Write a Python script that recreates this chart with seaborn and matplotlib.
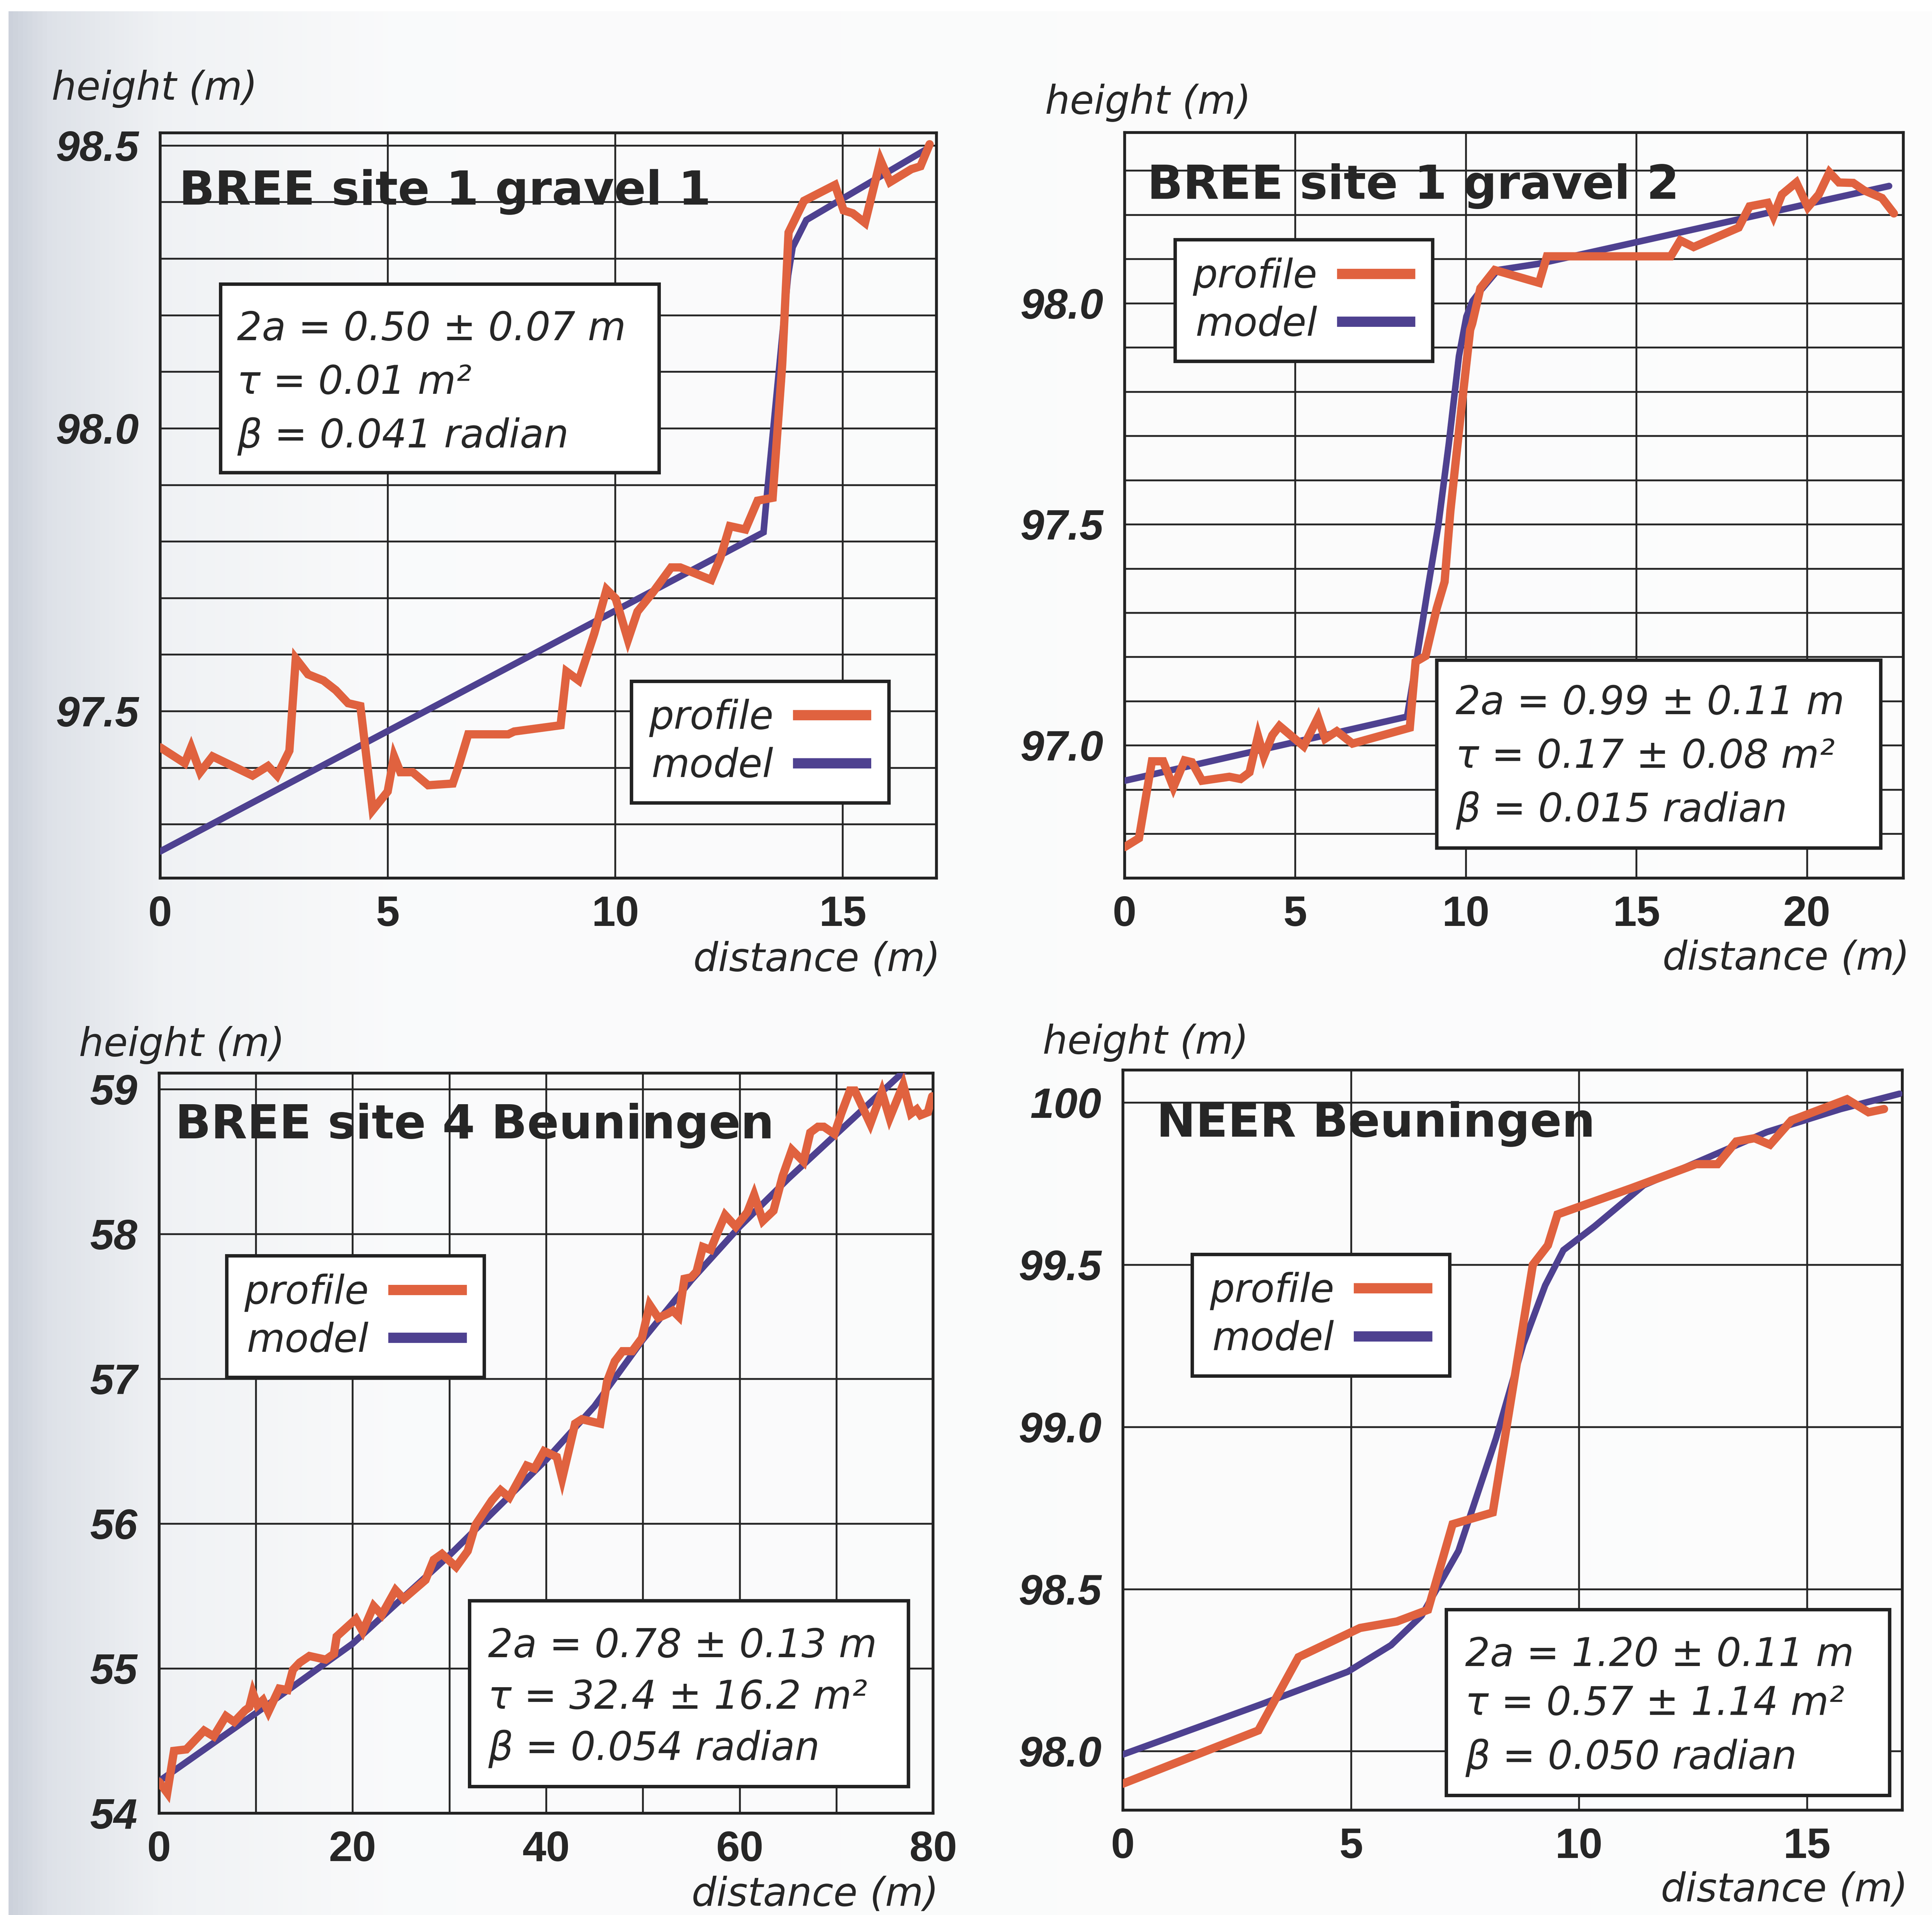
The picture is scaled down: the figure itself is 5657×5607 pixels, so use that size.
import numpy as np
import matplotlib.pyplot as plt
import seaborn as sns
from matplotlib.patches import Rectangle
from matplotlib.ticker import MultipleLocator, FixedLocator

# ---- data ----
# BREE site 1 gravel 1
g1_profile_x = [0, 0.54, 0.68, 0.88, 1.15, 2.03, 2.37, 2.57, 2.84, 2.98, 3.25, 3.59, 3.86, 4.13, 4.40,
                4.67, 5.0, 5.14, 5.28, 5.55, 5.89, 6.43, 6.56, 6.77, 7.65, 7.78, 8.80, 8.93, 9.2, 9.54,
                9.81, 10.01, 10.28, 10.49, 10.83, 11.23, 11.43, 12.11, 12.31, 12.52, 12.86, 13.13, 13.46,
                13.67, 13.81, 14.15, 14.83, 15.02, 15.22, 15.49, 15.83, 16.04, 16.51, 16.71, 16.91]
g1_profile_y = [97.436, 97.408, 97.436, 97.392, 97.42, 97.386, 97.403, 97.386, 97.43, 97.593, 97.565,
                97.554, 97.537, 97.514, 97.509, 97.325, 97.358, 97.42, 97.392, 97.392, 97.369, 97.372,
                97.403, 97.459, 97.459, 97.464, 97.475, 97.57, 97.554, 97.637, 97.715, 97.699, 97.626,
                97.676, 97.71, 97.754, 97.754, 97.732, 97.771, 97.827, 97.821, 97.872, 97.877, 98.112,
                98.346, 98.402, 98.43, 98.385, 98.38, 98.363, 98.474, 98.435, 98.458, 98.463, 98.502]
g1_model_x = [0, 13.26, 13.32, 13.8, 13.9, 14.2, 16.88]
g1_model_y = [97.252, 97.816, 97.87, 98.27, 98.32, 98.368, 98.495]

# BREE site 1 gravel 2
g2_profile_x = [0, 0.42, 0.80, 1.13, 1.43, 1.76, 1.97, 2.27, 3.07, 3.40, 3.66, 3.91, 4.08, 4.33, 4.54,
                5.25, 5.67, 5.88, 6.22, 6.68, 8.36, 8.53, 8.82, 9.15, 9.38, 9.55, 9.87, 10.0, 10.13,
                10.19, 10.43, 10.85, 12.15, 12.38, 16.01, 16.29, 16.68, 18.0, 18.32, 18.85, 19.02,
                19.27, 19.69, 20.03, 20.35, 20.66, 20.94, 21.36, 21.68, 22.2, 22.55]
g2_profile_y = [96.77, 96.79, 96.964, 96.964, 96.905, 96.966, 96.962, 96.92, 96.929, 96.924, 96.939,
                97.021, 96.975, 97.023, 97.044, 96.998, 97.063, 97.015, 97.032, 97.004, 97.04, 97.189,
                97.202, 97.31, 97.37, 97.53, 97.76, 97.85, 97.94, 97.954, 98.034, 98.075, 98.046,
                98.106, 98.106, 98.142, 98.127, 98.171, 98.219, 98.227, 98.197, 98.246, 98.273,
                98.217, 98.246, 98.296, 98.273, 98.272, 98.255, 98.238, 98.203]
g2_model_x = [0, 8.28, 8.57, 8.9, 9.2, 9.5, 9.8, 10.02, 10.2, 10.45, 10.94, 12.13, 15, 20, 22.41]
g2_model_y = [96.92, 97.065, 97.2, 97.36, 97.5, 97.68, 97.88, 97.97, 98.005, 98.03, 98.075, 98.089,
              98.138, 98.224, 98.265]

# BREE site 4 Beuningen
g3_profile_x = [0, 0.85, 1.55, 2.82, 4.66, 5.65, 6.92, 7.77, 8.9, 9.32, 9.7, 10.17, 10.74, 11.3, 12.43,
                13.28, 13.84, 14.55, 15.54, 17.23, 18.08, 18.36, 20.34, 21.05, 22.18, 23.02, 24.44,
                25.28, 27.54, 28.39, 29.24, 30.7, 31.9, 32.7, 34.4, 35.3, 36.2, 38.0, 38.8, 39.8, 41.1,
                41.66, 43.0, 43.7, 45.6, 46.3, 47.1, 47.9, 48.9, 49.9, 50.7, 51.6, 52.6, 53.1, 53.7,
                54.3, 55.0, 55.55, 56.2, 57.0, 57.6, 58.5, 59.6, 60.8, 61.5, 62.4, 63.5, 64.45, 65.4,
                66.6, 67.3, 68.1, 68.7, 69.8, 70.5, 71.4, 71.9, 73.5, 74.7, 75.5, 76.9, 77.7, 78.3,
                78.7, 79.45, 79.9]
g3_profile_y = [54.217, 54.14, 54.43, 54.44, 54.57, 54.53, 54.67, 54.63, 54.71, 54.73, 54.83, 54.745,
                54.78, 54.70, 54.86, 54.85, 54.99, 55.04, 55.085, 55.06, 55.10, 55.22, 55.34, 55.255,
                55.43, 55.37, 55.54, 55.48, 55.61, 55.75, 55.79, 55.70, 55.81, 55.99, 56.16, 56.23,
                56.18, 56.40, 56.38, 56.50, 56.46, 56.31, 56.69, 56.72, 56.69, 56.98, 57.12, 57.19,
                57.19, 57.28, 57.51, 57.42, 57.45, 57.47, 57.43, 57.69, 57.70, 57.74, 57.91, 57.89,
                57.99, 58.13, 58.05, 58.15, 58.27, 58.09, 58.16, 58.40, 58.58, 58.50, 58.70, 58.74,
                58.74, 58.69, 58.83, 58.99, 58.99, 58.76, 58.98, 58.80, 59.03, 58.83, 58.86, 58.82,
                58.84, 58.95]
g3_model_x = [0, 10, 20, 30, 35, 40, 45, 50, 55, 60, 65, 70, 75, 80]
g3_model_y = [54.22, 54.69, 55.17, 55.78, 56.11, 56.44, 56.81, 57.27, 57.68, 58.05, 58.38, 58.69,
              59.00, 59.31]

# NEER Beuningen
g4_profile_x = [0, 2.97, 3.85, 5.2, 6.01, 6.69, 7.23, 8.11, 8.99, 9.32, 9.53, 11.15, 12.57, 13.04,
                13.45, 13.85, 14.19, 14.66, 15.88, 16.35, 16.69]
g4_profile_y = [97.90, 98.064, 98.29, 98.38, 98.40, 98.436, 98.70, 98.736, 99.50, 99.56, 99.655,
                99.736, 99.81, 99.81, 99.88, 99.89, 99.87, 99.945, 100.01, 99.97, 99.98]
g4_model_x = [0, 3.04, 4.93, 5.88, 6.55, 7.36, 8.18, 8.78, 9.26, 9.66, 10.34, 11.42, 12.77, 14.12,
              15.74, 17.03]
g4_model_y = [97.99, 98.145, 98.245, 98.327, 98.418, 98.618, 98.964, 99.255, 99.436, 99.545, 99.618,
              99.745, 99.827, 99.909, 99.98, 100.027]

titles = ["BREE site 1 gravel 1", "BREE site 1 gravel 2", "BREE site 4 Beuningen", "NEER Beuningen"]
params = [
    ["2a = 0.50 ± 0.07 m", "τ = 0.01 m²", "β = 0.041 radian"],
    ["2a = 0.99 ± 0.11 m", "τ = 0.17 ± 0.08 m²", "β = 0.015 radian"],
    ["2a = 0.78 ± 0.13 m", "τ = 32.4 ± 16.2 m²", "β = 0.054 radian"],
    ["2a = 1.20 ± 0.11 m", "τ = 0.57 ± 1.14 m²", "β = 0.050 radian"],
]
y_ticks = [[97.5, 98.0, 98.5], [97.0, 97.5, 98.0], [54, 55, 56, 57, 58, 59], [98.0, 98.5, 99.0, 99.5, 100]]
y_tick_labels = [["97.5", "98.0", "98.5"], ["97.0", "97.5", "98.0"],
                 ["54", "55", "56", "57", "58", "59"], ["98.0", "98.5", "99.0", "99.5", "100"]]
x_ticks = [[0, 5, 10, 15], [0, 5, 10, 15, 20], [0, 20, 40, 60, 80], [0, 5, 10, 15]]

profiles = [(g1_profile_x, g1_profile_y), (g2_profile_x, g2_profile_y),
            (g3_profile_x, g3_profile_y), (g4_profile_x, g4_profile_y)]
models = [(g1_model_x, g1_model_y), (g2_model_x, g2_model_y),
          (g3_model_x, g3_model_y), (g4_model_x, g4_model_y)]

# ---- layout (axes fractions) ----
layout = [
    dict(rect=[0.0829, 0.5415, 0.4018, 0.3891], xlim=(0, 17.06), ylim=(97.205, 98.522),
         ygrid=0.1, xgrid=5, title=(0.024, 0.904),
         legend=(0.607, 0.264), box=(0.078, 0.544, 0.643, 0.797), ptext=(0.099, [0.722, 0.650, 0.578]),
         ylab=(-0.140, 1.059), xlab=(1.005, -0.110)),
    dict(rect=[0.5821, 0.5415, 0.4031, 0.3893], xlim=(0, 22.83), ylim=(96.70, 98.386),
         ygrid=0.1, xgrid=5, title=(0.029, 0.911),
         legend=(0.065, 0.856), box=(0.401, 0.040, 0.971, 0.292), ptext=(0.425, [0.220, 0.148, 0.076]),
         ylab=(-0.102, 1.040), xlab=(1.008, -0.108)),
    dict(rect=[0.0823, 0.0532, 0.4007, 0.3864], xlim=(0, 80), ylim=(54.0, 59.11),
         ygrid=1, xgrid=10, title=(0.021, 0.912),
         legend=(0.0875, 0.753), box=(0.401, 0.036, 0.968, 0.287), ptext=(0.425, [0.211, 0.141, 0.072]),
         ylab=(-0.1035, 1.038), xlab=(1.007, -0.110)),
    dict(rect=[0.5812, 0.0547, 0.4034, 0.3865], xlim=(0, 17.09), ylim=(97.818, 100.1),
         ygrid=0.5, xgrid=5, title=(0.043, 0.910),
         legend=(0.089, 0.751), box=(0.415, 0.020, 0.984, 0.271), ptext=(0.439, [0.195, 0.129, 0.056]),
         ylab=(-0.103, 1.037), xlab=(1.007, -0.108)),
]

ORANGE = "#e0623f"
PURPLE = "#4e4190"
INK = "#262626"

sns.set_theme(style="white")
plt.rcParams['font.family'] = ['DejaVu Sans']

fig = plt.figure(figsize=(5657 / 300, 5607 / 300), dpi=300)
fig.patch.set_facecolor("white")

# scanned page tint (darker near the binding on the left)
bg = fig.add_axes([0, 0, 1, 1], zorder=-10)
cols = np.linspace(0, 1, 400)
stops = [0.0, 0.02, 0.08, 0.2, 1.0]
shade = np.stack([np.interp(cols, stops, [0.80, 0.87, 0.94, 0.98, 0.99]),
                  np.interp(cols, stops, [0.82, 0.885, 0.948, 0.982, 0.99]),
                  np.interp(cols, stops, [0.86, 0.91, 0.958, 0.985, 0.99])], axis=-1)
bg.imshow(shade[np.newaxis, :, :], extent=[0.0045, 1, 0, 0.994], aspect="auto")
bg.set_xlim(0, 1)
bg.set_ylim(0, 1)
bg.axis("off")

tick_font = dict(family="Liberation Sans", weight="bold", size=30, color=INK)

for i, lay in enumerate(layout):
    ax = fig.add_axes(lay["rect"])
    ax.set_facecolor("none")
    px, py = profiles[i]
    mx, my = models[i]
    sns.lineplot(x=mx, y=my, ax=ax, color=PURPLE, linewidth=4.6, label="model",
                 estimator=None, sort=False, zorder=3)
    sns.lineplot(x=px, y=py, ax=ax, color=ORANGE, linewidth=5.8, label="profile",
                 estimator=None, sort=False, zorder=4)
    for ln in ax.get_lines():
        ln.set_solid_joinstyle("miter")

    ax.set_xlim(*lay["xlim"])
    ax.set_ylim(*lay["ylim"])

    ax.xaxis.set_major_locator(FixedLocator(x_ticks[i]))
    ax.xaxis.set_minor_locator(MultipleLocator(lay["xgrid"]))
    ax.yaxis.set_major_locator(FixedLocator(y_ticks[i]))
    ax.yaxis.set_minor_locator(MultipleLocator(lay["ygrid"]))
    ax.set_yticklabels(y_tick_labels[i], fontdict=dict(tick_font, style="italic"))
    ax.set_xticklabels([str(v) for v in x_ticks[i]], fontdict=tick_font)
    ax.tick_params(axis="both", which="both", length=0)
    ax.tick_params(axis="y", pad=15)
    ax.tick_params(axis="x", pad=12)
    ax.grid(True, which="both", color="#262626", linewidth=1.3)
    ax.set_axisbelow(True)
    for sp in ax.spines.values():
        sp.set_visible(True)
        sp.set_color("#222222")
        sp.set_linewidth(2.0)

    ax.set_ylabel("height (m)", rotation=0, fontsize=27.5, style="italic", color=INK,
                  ha="left", va="center")
    ax.yaxis.set_label_coords(*lay["ylab"])
    ax.set_xlabel("distance (m)", fontsize=27.5, style="italic", color=INK,
                  ha="right", va="center")
    ax.xaxis.set_label_coords(*lay["xlab"])

    ax.text(lay["title"][0], lay["title"][1], titles[i], transform=ax.transAxes,
            fontsize=33, fontweight="heavy", color=INK, va="baseline", ha="left", zorder=6)

    x0, y0, x1, y1 = lay["box"]
    ax.add_patch(Rectangle((x0, y0), x1 - x0, y1 - y0, transform=ax.transAxes,
                           facecolor="white", edgecolor="#222222", linewidth=2.4, zorder=5))
    tx, tys = lay["ptext"]
    for s, ty in zip(params[i], tys):
        ax.text(tx, ty, s, transform=ax.transAxes, fontsize=27.5, style="italic",
                color=INK, va="baseline", ha="left", zorder=6)

    handles, labels = ax.get_legend_handles_labels()
    order = [labels.index("profile"), labels.index("model")]
    leg = ax.legend([handles[k] for k in order], [labels[k] for k in order],
                    loc="upper left", bbox_to_anchor=lay["legend"], borderaxespad=0,
                    frameon=True, fancybox=False, framealpha=1, edgecolor="#222222",
                    prop=dict(style="italic", size=27.5), markerfirst=False,
                    handlelength=2.0, handletextpad=0.5, borderpad=0.45, labelspacing=0.25)
    leg.get_frame().set_linewidth(2.4)
    for t in leg.get_texts():
        t.set_color(INK)
    for ln in leg.get_lines():
        ln.set_linewidth(7.2)
        ln.set_solid_capstyle("butt")
    leg.set_zorder(8)

fig.savefig("out.png", dpi=300)
